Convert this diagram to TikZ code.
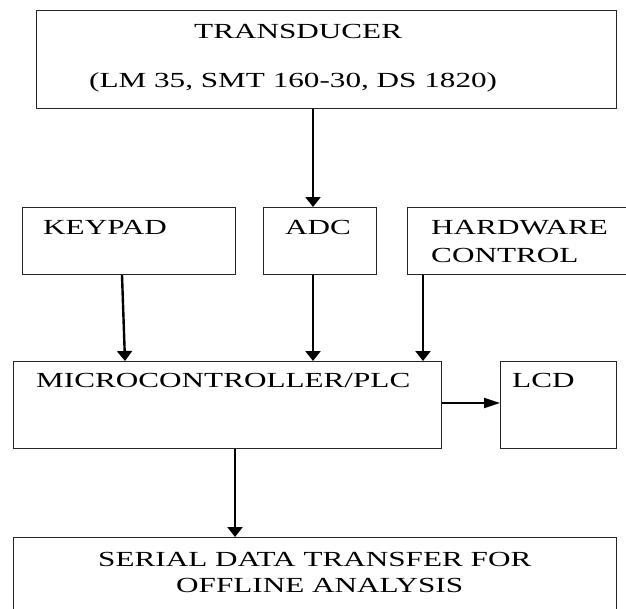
\documentclass[tikz,border=0pt]{standalone}
\usepackage{fontspec}
\setmainfont{Liberation Serif}[FakeStretch=1.45]
\usetikzlibrary{arrows.meta}
\tikzset{
  blk/.style={draw=black!85, line width=1.2pt, rectangle, inner sep=0pt, anchor=north west},
  lbl/.style={anchor=base west, inner sep=0pt, font=\fontsize{21.5}{24}\selectfont, text=black},
  varr/.style={draw=black, line width=2.4pt, -{Triangle[width=15pt,length=10pt]}},
  harr/.style={draw=black, line width=2pt, -{Triangle[width=10pt,length=16pt]}},
}
\begin{document}
\begin{tikzpicture}[x=1pt, y=-1pt]
\useasboundingbox (0,0) rectangle (626,608);
\clip (0,0) rectangle (626,608);
% boxes
\node[blk, minimum width=580pt, minimum height=98pt] (trans) at (36,10) {};
\node[blk, minimum width=213pt, minimum height=67pt] (keypad) at (22,207) {};
\node[blk, minimum width=113pt, minimum height=67pt] (adc) at (263,207) {};
\node[blk, minimum width=240pt, minimum height=67pt] (hw) at (407,207) {};
\node[blk, minimum width=428pt, minimum height=87pt] (micro) at (13,361) {};
\node[blk, minimum width=116pt, minimum height=87pt] (lcd) at (500,361) {};
\node[blk, minimum width=603pt, minimum height=100pt] (serial) at (13,537) {};
% labels
\node[lbl] (t1) at (194,38) {TRANSDUCER};
\node[lbl] (t2) at (89,87) {(LM 35, SMT 160-30, DS 1820)};
\node[lbl] (k1) at (43,234) {KEYPAD};
\node[lbl] (a1) at (285,234) {ADC};
\node[lbl] (h1) at (431,234) {HARDWARE};
\node[lbl] (h2) at (431,262) {CONTROL};
\node[lbl] (m1) at (36,387) {MICROCONTROLLER/PLC};
\node[lbl] (l1) at (512,387) {LCD};
\node[lbl] (s1) at (98,566) {SERIAL DATA TRANSFER FOR};
\node[lbl] (s2) at (176,592.5) {OFFLINE ANALYSIS};
% connectors
\draw[varr] ([xshift=277pt]trans.south west) -- ([xshift=50pt]adc.north west);
\draw[varr] ([xshift=100pt]keypad.south west) -- ([xshift=112pt]micro.north west);
\draw[varr] ([xshift=50pt]adc.south west) -- ([xshift=300pt]micro.north west);
\draw[varr] ([xshift=16pt]hw.south west) -- ([xshift=410pt]micro.north west);
\draw[harr] ([yshift=-42pt]micro.north east) -- ([yshift=-42pt]lcd.north west);
\draw[varr] ([xshift=222pt]micro.south west) -- ([xshift=222pt]serial.north west);
\end{tikzpicture}
\end{document}
